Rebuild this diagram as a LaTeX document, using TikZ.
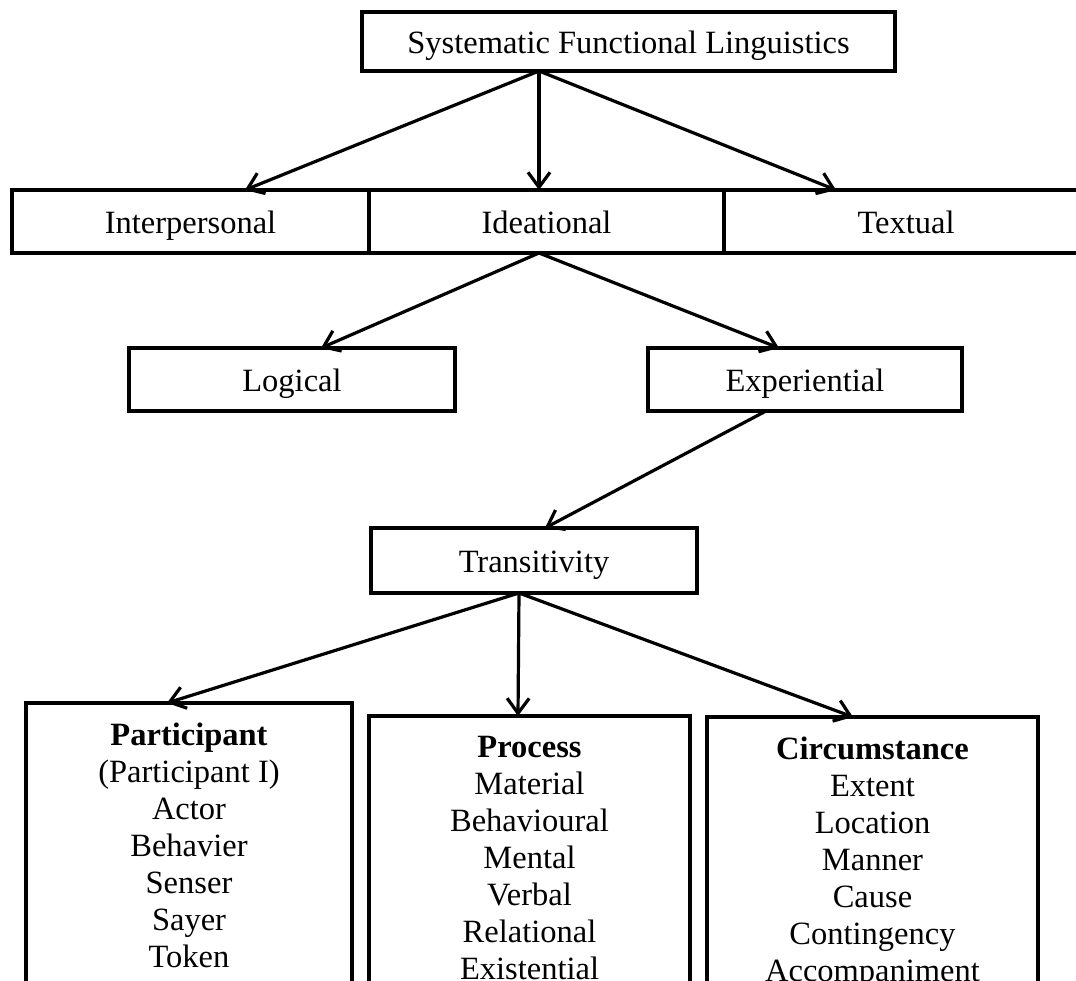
\documentclass[tikz,border=0pt]{standalone}
\usepackage{fontspec}
\setmainfont{Liberation Serif}
\usetikzlibrary{arrows.meta, positioning}

\tikzset{
	base/.style={draw, rectangle, line width=3.2pt, outer sep=0pt, inner sep=0pt,
		font=\fontsize{32.5}{37}\selectfont},
	box/.style={base, minimum height=63pt, text height=26pt, text depth=2pt},
	list/.style={base, anchor=north, align=center, inner ysep=20pt}
}

\begin{document}
\begin{tikzpicture}[x=1pt, y=-1pt, ->, >={Straight Barb[length=15pt,width=22pt]}, line width=3.2pt]
		\useasboundingbox (0,0) rectangle (1076,981);
		\clip (0,0) rectangle (1076,981);
		% top
		\node[box, minimum width=533pt, minimum height=59pt]	(SFL)	at (628.5,41.5)
			{Systematic Functional Linguistics};
		% metafunctions
		\node[box, minimum width=355pt]	(IDE)	at (546.5,221.5)	{Ideational};
		\node[box, minimum width=357pt]	(INT)	[left=0pt of IDE]	{Interpersonal};
		\node[box, minimum width=364pt]	(TEX)	[right=0pt of IDE]	{Textual};
		\node[box, minimum width=326pt]	(LOG)	at (292,379.5)	{Logical};
		\node[box, minimum width=314pt]	(EXP)	[right=193pt of LOG]	{Experiential};
		\node[box, minimum width=326pt, minimum height=65pt]	(TRA)	at (534,560.5)	{Transitivity};
		% transitivity system
		\node[list, minimum width=326pt]	(PAR)	at (189,703)
			{\textbf{Participant}\\(Participant I)\\Actor\\Behavier\\Senser\\Sayer\\Token\\Carrier};
		\node[list, minimum width=321pt]	(PRO)	at (529.5,716)
			{\textbf{Process}\\Material\\Behavioural\\Mental\\Verbal\\Relational\\Existential};
		\node[list, minimum width=331pt]	(CIR)	at (872.5,717)
			{\textbf{Circumstance}\\Extent\\Location\\Manner\\Cause\\Contingency\\Accompaniment};
		\path	([xshift=-89.5pt]SFL.south)	edge	([xshift=54.5pt]INT.north)
					edge	([xshift=-7.5pt]IDE.north)
					edge	([xshift=-70pt]TEX.north)
				([xshift=-7.5pt]IDE.south)	edge	([xshift=29pt]LOG.north)
					edge	([xshift=-26pt]EXP.north)
				([xshift=-39pt]EXP.south)	edge	([xshift=11pt]TRA.north)
				([xshift=-15pt]TRA.south)	edge	([xshift=-22pt]PAR.north)
					edge	([xshift=-11.5pt]PRO.north)
					edge	([xshift=-19.5pt]CIR.north);
	\end{tikzpicture}
\end{document}
